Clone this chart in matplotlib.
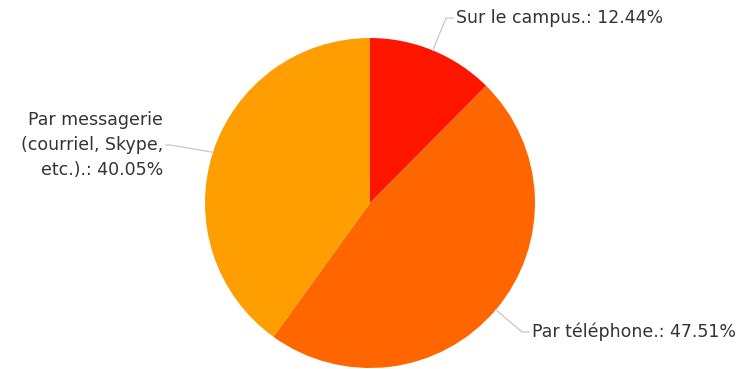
import numpy as np
import matplotlib
matplotlib.use("Agg")
import matplotlib.pyplot as plt

labels = ["Sur le campus.", "Par téléphone.", "Par messagerie\n(courriel, Skype,\netc.)."]
shares = [12.44, 47.51, 40.05]
colors = ["#ff1500", "#ff6600", "#ff9e01"]

W, H = 742, 369
fig = plt.figure(figsize=(W / 100, H / 100), dpi=100)
ax = fig.add_axes([0, 0, 1, 1])

cx, cy, r = 370, H - 203, 165
wedges, _ = ax.pie(shares, colors=colors, startangle=90, counterclock=False,
                   center=(cx, cy), radius=r, frame=True,
                   wedgeprops=dict(linewidth=0))
ax.set_xlim(0, W)
ax.set_ylim(0, H)
ax.set_aspect("equal")
ax.axis("off")

# label placement: (elbow point, text anchor, side) in pixel coords from top-left
label_pos = [
    ((446, 18), (456, 18), "left"),
    ((522, 332), (532, 332), "left"),
    ((170, 145), (163, 145), "right"),
]

for w, lab, val, (elbow, txt, side) in zip(wedges, labels, shares, label_pos):
    mid = np.deg2rad((w.theta1 + w.theta2) / 2)
    ex, ey = cx + r * np.cos(mid), cy + r * np.sin(mid)
    bx, by = elbow[0], H - elbow[1]
    tx, ty = txt[0], H - txt[1]
    end_x = tx + 3 if side == "right" else tx - 3
    ax.plot([ex, bx, end_x], [ey, by, ty], color="#c8c8c8", lw=0.9, zorder=1)
    ax.text(tx, ty, f"{lab}: {val:.2f}%", ha=side, va="center", fontsize=12.5,
            color="#333333", linespacing=1.5, multialignment=side)

fig.savefig("out.png", dpi=100)
